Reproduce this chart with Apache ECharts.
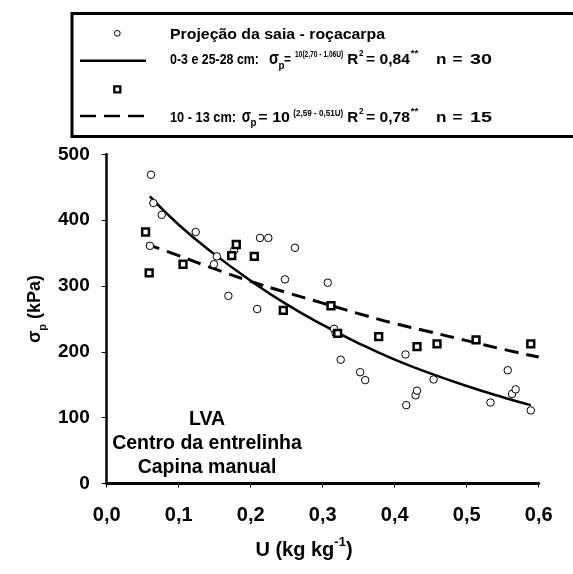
<!DOCTYPE html>
<html><head><meta charset="utf-8">
<script src="https://cdn.jsdelivr.net/npm/echarts@6/dist/echarts.min.js"></script>
<style>html,body{margin:0;padding:0;background:#fff}#c{width:573px;height:574px}</style>
</head><body><div id="c"></div>
<script>
// Circles: Projeção da saia - roçacarpa (0-3 e 25-28 cm), n = 30
const circleU = [0.0615,0.0648,0.0764,0.060,0.1236,0.149,0.153,0.169,0.177,0.213,0.2245,0.209,0.2476,0.2615,0.307,0.3157,0.318,0.325,0.352,0.359,0.415,0.416,0.429,0.431,0.454,0.533,0.557,0.563,0.568,0.589];
const circleV = [469,426,408,361,382,333,345,285,354,373,373,265,310,358,305,235,228,188,169,157,196,119,134,141,158,123,172,136,143,111];
// Squares: 10 - 13 cm
const squareU = [0.054,0.059,0.106,0.1736,0.18,0.205,0.2453,0.3115,0.3208,0.3778,0.431,0.4588,0.513,0.589];
const squareV = [382,320,333,346,363,345,263,270,228,223,208,212,218,212];
// Fitted curves, values
const solidU = [0.06,0.10,0.15,0.20,0.25,0.30,0.35,0.40,0.45,0.50,0.55,0.589];
const solidV = [436,393,348,308,272,241,213,188,167,148,131,119];
const dashU = [0.055,0.10,0.15,0.20,0.25,0.30,0.35,0.40,0.45,0.50,0.55,0.60];
const dashV = [364,346,326,307,290,274,258,243,230,217,204,192];
const xTicks = ['0,0','0,1','0,2','0,3','0,4','0,5','0,6'];
const yTicks = ['0','100','200','300','400','500'];

const zip = (a,b) => a.map((v,i)=>[v,b[i]]);
const F = '"Liberation Sans", Arial, sans-serif';
const chart = echarts.init(document.getElementById('c'));
const mctx = document.createElement('canvas').getContext('2d');

// text segment fitted between x0 and x1, with given baseline
function seg(x0,x1,base,s,size){
  const font = 'bold '+size+'px '+F;
  mctx.font = font;
  const w = mctx.measureText(s).width;
  const sx = (x1-x0)/w;
  return {type:'text',x:x0,y:base-0.36*size,scaleX:sx,scaleY:1,originX:0,originY:0,
    style:{text:s,font:font,fill:'#000',align:'left',verticalAlign:'middle'}};
}

const g = [];
// legend box
g.push({type:'rect',shape:{x:72,y:13.5,width:510,height:123},style:{fill:'#fff',stroke:'#000',lineWidth:3}});
g.push({type:'circle',shape:{cx:117.3,cy:33.3,r:2.9},style:{fill:'#fff',stroke:'#000',lineWidth:1}});
g.push({type:'rect',shape:{x:114.3,y:86.3,width:6,height:6},style:{fill:'#fff',stroke:'#000',lineWidth:2.3}});
g.push({type:'line',shape:{x1:80,y1:60.7,x2:146,y2:60.7},style:{stroke:'#000',lineWidth:2.5}});
g.push({type:'line',shape:{x1:80,y1:116,x2:144,y2:116},style:{stroke:'#000',lineWidth:2.5,lineDash:[16,8]}});
// row 1
g.push(seg(170,385,40,'Projeção da saia - roçacarpa',15));
// row 2
g.push(seg(170,259,65.7,'0-3 e 25-28 cm:',15));
g.push(seg(269,279,66,'σ',18));
g.push(seg(278.5,284.5,69.5,'p',10));
g.push(seg(284,291,65.7,'=',15));
g.push(seg(295,343.3,57.3,'10(2,70 - 1,06U)',9));
g.push(seg(347.3,358.3,65.7,'R',15));
g.push(seg(359,363.5,57,'2',9));
g.push(seg(366,410,65.7,'= 0,84',15));
g.push(seg(410.7,418.3,57,'**',9));
g.push(seg(436,446.5,65.7,'n',15));
g.push(seg(452.5,462.5,65.7,'=',15));
g.push(seg(470,492,65.7,'30',15));
// row 4
g.push(seg(170,236,123.3,'10 - 13 cm:',15));
g.push(seg(241.7,251,123.6,'σ',18));
g.push(seg(250.5,256.5,127,'p',10));
g.push(seg(258.3,290,123.3,'= 10',15));
g.push(seg(293.3,343.3,116.5,'(2,59 - 0,51U)',9));
g.push(seg(347.3,358.3,123.3,'R',15));
g.push(seg(359,363.5,114.6,'2',9));
g.push(seg(366,410,123.3,'= 0,78',15));
g.push(seg(410.7,418.3,114.6,'**',9));
g.push(seg(436,446.5,123.3,'n',15));
g.push(seg(452.5,462.5,123.3,'=',15));
g.push(seg(470,492,123.3,'15',15));
// annotation in plot
['LVA','Centro da entrelinha','Capina manual'].forEach((s,i)=>{
  g.push({type:'text',x:207,y:420+i*24,style:{text:s,font:'bold 19.5px '+F,fill:'#000',align:'center',verticalAlign:'middle'}});
});
// y axis name
g.push({type:'text',x:33,y:309,rotation:Math.PI/2,style:{text:'{a|σ}{s|p}{a| (kPa)}',align:'center',verticalAlign:'middle',rich:{a:{font:'bold 18px '+F,fill:'#000',lineHeight:22,verticalAlign:'bottom'},s:{font:'bold 11px '+F,fill:'#000',verticalAlign:'bottom',lineHeight:22,padding:[0,0,-4,0]}}}});
// x axis name
g.push({type:'text',x:304,y:548,style:{text:'{a|U (kg kg}{s|-1}{a|)}',align:'center',verticalAlign:'middle',rich:{a:{font:'bold 20px '+F,fill:'#000',lineHeight:24,verticalAlign:'bottom'},s:{font:'bold 13px '+F,fill:'#000',lineHeight:24,verticalAlign:'top'}}}});

chart.setOption({
  animation:false,
  grid:{left:106.7,right:34.3,top:154.3,bottom:90.5},
  xAxis:{type:'value',min:0,max:0.6,interval:0.1,
    axisLine:{lineStyle:{color:'#000',width:3}},
    axisTick:{length:4,lineStyle:{color:'#000',width:1}},
    axisLabel:{margin:22,color:'#000',fontFamily:F,fontWeight:'bold',fontSize:20,formatter:(v)=>xTicks[Math.round(v*10)]},
    splitLine:{show:false}},
  yAxis:{type:'value',min:0,max:500,interval:100,
    axisLine:{show:true,lineStyle:{color:'#000',width:2.5}},
    axisTick:{show:true,length:5,lineStyle:{color:'#000',width:1}},
    axisLabel:{margin:17,color:'#000',fontFamily:F,fontWeight:'bold',fontSize:19,formatter:(v)=>yTicks[Math.round(v/100)]},
    splitLine:{show:false}},
  series:[
    {type:'line',data:zip(solidU,solidV),smooth:true,symbol:'none',lineStyle:{color:'#000',width:2.5},z:3},
    {type:'line',data:zip(dashU,dashV),smooth:true,symbol:'none',lineStyle:{color:'#000',width:3,type:[14,8]},z:3},
    {type:'scatter',data:zip(circleU,circleV),symbol:'circle',symbolSize:7.5,itemStyle:{color:'#fff',borderColor:'#000',borderWidth:1,opacity:1},z:4},
    {type:'scatter',data:zip(squareU,squareV),symbol:'rect',symbolSize:6.8,itemStyle:{color:'#fff',borderColor:'#000',borderWidth:2.5,opacity:1},z:5}
  ],
  graphic:g
});
</script></body></html>
